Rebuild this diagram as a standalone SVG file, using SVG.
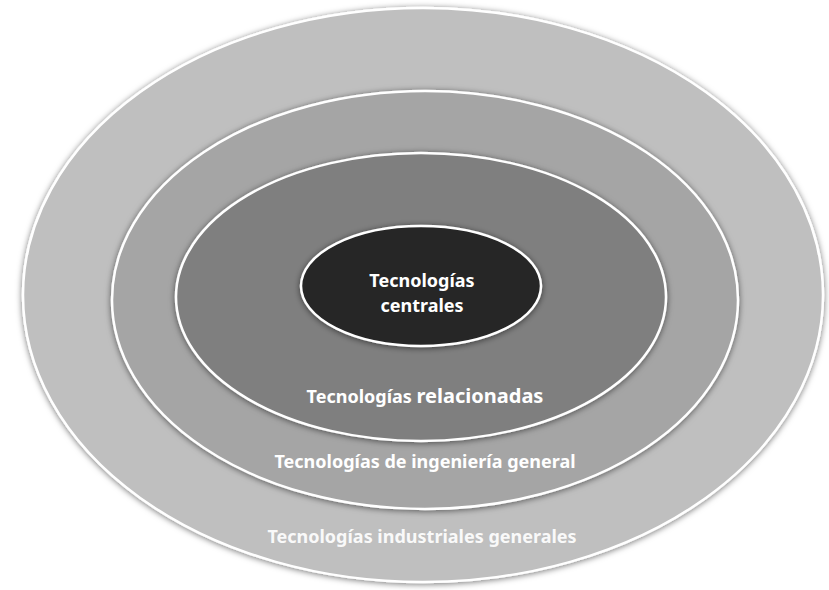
<svg xmlns="http://www.w3.org/2000/svg" width="829" height="590" viewBox="0 0 829 590">
<defs>
<filter id="sh" x="-10%" y="-10%" width="120%" height="120%">
<feDropShadow dx="0" dy="1" stdDeviation="3" flood-color="#000" flood-opacity="0.55"/>
</filter>
</defs>
<style>
.ring{stroke:#fff;stroke-width:2.5;filter:url(#sh)}
.lbl{font-family:"Noto Sans","Open Sans","Liberation Sans",sans-serif;font-weight:bold;font-size:18px;fill:#fff;text-anchor:middle}
</style>
<rect width="829" height="590" fill="#fff"/>
<g id="industriales">
<ellipse class="ring" cx="423" cy="295" rx="400" ry="287" fill="#bfbfbf"/>
<text class="lbl" x="422" y="543" fill-opacity="0.92">Tecnologías industriales generales</text>
</g>
<g id="ingenieria">
<ellipse class="ring" cx="425" cy="300" rx="313" ry="209" fill="#a5a5a5"/>
<text class="lbl" x="425" y="468">Tecnologías de ingeniería general</text>
</g>
<g id="relacionadas">
<ellipse class="ring" cx="421" cy="297" rx="245" ry="144" fill="#7f7f7f"/>
<text class="lbl" x="425" y="403">Tecnologías <tspan font-size="20">relacionadas</tspan></text>
</g>
<g id="centrales">
<ellipse class="ring" cx="421" cy="286" rx="120" ry="60" fill="#262626"/>
<text class="lbl" x="422" y="287">Tecnologías</text>
<text class="lbl" x="422" y="312">centrales</text>
</g>
<g id="connectors"/>
</svg>
